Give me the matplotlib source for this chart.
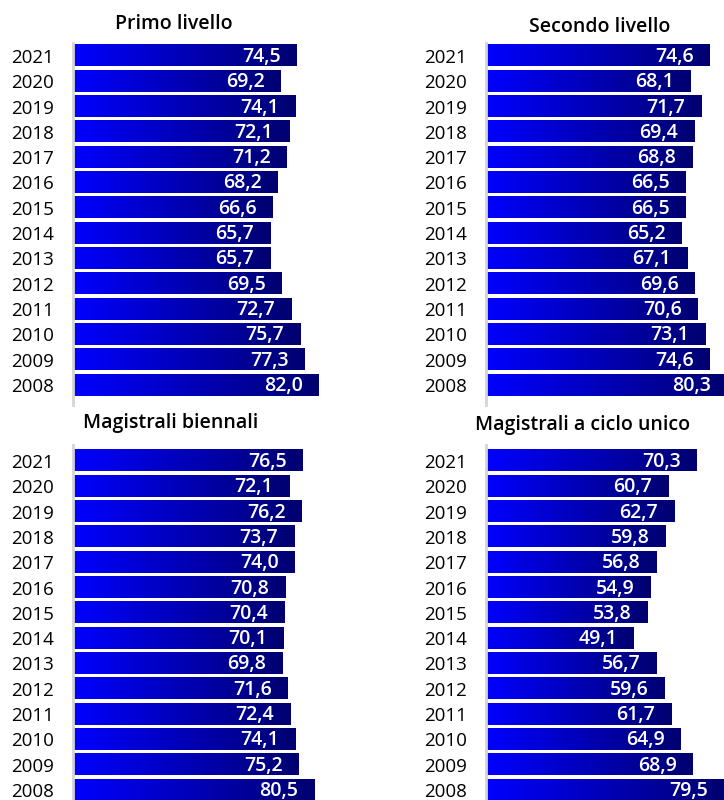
import matplotlib
matplotlib.use('Agg')
import matplotlib.pyplot as plt
import numpy as np
from matplotlib.colors import LinearSegmentedColormap

years = ['2021', '2020', '2019', '2018', '2017', '2016', '2015',
         '2014', '2013', '2012', '2011', '2010', '2009', '2008']
primo = [74.5, 69.2, 74.1, 72.1, 71.2, 68.2, 66.6, 65.7, 65.7, 69.5, 72.7, 75.7, 77.3, 82.0]
secondo = [74.6, 68.1, 71.7, 69.4, 68.8, 66.5, 66.5, 65.2, 67.1, 69.6, 70.6, 73.1, 74.6, 80.3]
biennali = [76.5, 72.1, 76.2, 73.7, 74.0, 70.8, 70.4, 70.1, 69.8, 71.6, 72.4, 74.1, 75.2, 80.5]
ciclo = [70.3, 60.7, 62.7, 59.8, 56.8, 54.9, 53.8, 49.1, 56.7, 59.6, 61.7, 64.9, 68.9, 79.5]
titles = ['Primo livello', 'Secondo livello', 'Magistrali biennali', 'Magistrali a ciclo unico']

plt.rcParams['font.family'] = ['Open Sans', 'DejaVu Sans']

W, H = 724, 800
fig = plt.figure(figsize=(W / 100, H / 100), dpi=100)

# gradient: bright blue on the left, navy on the right
cmap = LinearSegmentedColormap.from_list('bluegrad', ['#0000ff', '#000070'])
grad = np.linspace(0, 1, 256).reshape(1, -1)


def px_axes(left, top, width, height):
    return fig.add_axes([left / W, (H - top - height) / H, width / W, height / H])


def panel(ax, values, ylim):
    y = np.arange(len(years))
    bars = ax.barh(y, values, height=0.83, color='none', edgecolor='none')
    for b, v in zip(bars, values):
        x0, y0 = b.get_x(), b.get_y()
        ax.imshow(grad, cmap=cmap, aspect='auto', zorder=2,
                  extent=[x0, x0 + b.get_width(), y0 + b.get_height(), y0])
        ax.annotate(f'{v:.1f}'.replace('.', ','), xy=(v, b.get_y() + b.get_height() / 2),
                    xytext=(-16, -1), textcoords='offset pixels',
                    ha='right', va='center', color='white', fontsize=14,
                    fontweight='semibold', zorder=3)
    ax.set_xlim(0, 85)
    ax.set_ylim(*ylim)
    ax.set_yticks(y)
    ax.set_yticklabels(years, fontsize=13.5)
    ax.tick_params(axis='y', length=0, pad=14)
    ax.set_xticks([])
    for s in ['top', 'right', 'bottom']:
        ax.spines[s].set_visible(False)
    ax.spines['left'].set_color('#d4d4d4')
    ax.spines['left'].set_linewidth(2)
    ax.set_facecolor('none')


ax1 = px_axes(73, 43, 255, 362)
ax2 = px_axes(486, 43, 255, 362)
ax3 = px_axes(73, 445, 255, 365)
ax4 = px_axes(486, 445, 255, 365)
panel(ax1, primo, (13.79, -0.51))
panel(ax2, secondo, (13.79, -0.51))
panel(ax3, biennali, (13.79, -0.63))
panel(ax4, ciclo, (13.79, -0.63))

title_pos = [(174, 24), (600, 27), (171, 423), (583, 425)]
for t, (x, y) in zip(titles, title_pos):
    fig.text(x / W, 1 - y / H, t, ha='center', va='center', fontsize=14,
             fontweight='semibold')

fig.savefig('out.png', dpi=100)
